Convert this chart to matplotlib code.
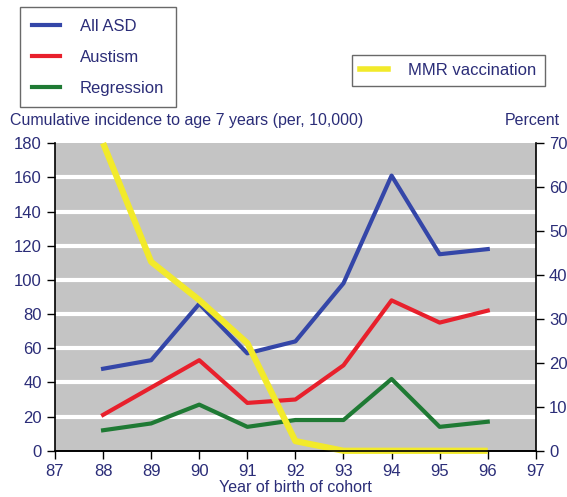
import matplotlib.pyplot as plt
from matplotlib.lines import Line2D

plt.rcParams['font.family'] = ['Liberation Sans', 'DejaVu Sans']

# data
years = [88, 89, 90, 91, 92, 93, 94, 95, 96]
all_asd = [48, 53, 86, 57, 64, 98, 161, 115, 118]
autism = [21, 37, 53, 28, 30, 50, 88, 75, 82]
regression = [12, 16, 27, 14, 18, 18, 42, 14, 17]
mmr_pct = [70, 43, 34.3, 24.5, 2.2, 0, 0, 0, 0]

txt = '#2b2d78'
blue, red, green, yellow = '#3446a8', '#e8202c', '#1f7a34', '#f2ea2a'

fig = plt.figure(figsize=(5.67, 4.97), dpi=100)
ax = fig.add_axes([0.097, 0.093, 0.848, 0.619])
ax.set_facecolor('#c4c4c4')
ax.set_xlim(87, 97)
ax.set_ylim(0, 180)
ax.set_xticks(range(87, 98))
ax.set_yticks(range(0, 181, 20))
for y in range(20, 180, 20):
    ax.axhline(y, color='white', lw=3, zorder=1)

ax.plot(years, all_asd, color=blue, lw=3, zorder=3)
ax.plot(years, autism, color=red, lw=3, zorder=3)
ax.plot(years, regression, color=green, lw=3, zorder=3)

ax2 = ax.twinx()
ax2.set_ylim(0, 70)
ax2.set_yticks(range(0, 71, 10))
ax2.plot(years, mmr_pct, color=yellow, lw=4.5, solid_capstyle='butt', clip_on=False)

for a in (ax, ax2):
    a.spines['top'].set_visible(False)
    for s in a.spines.values():
        s.set_linewidth(1.2)
    a.tick_params(colors='black', labelcolor=txt, labelsize=12, length=6, width=1)
ax2.spines['left'].set_visible(False)
ax.spines['right'].set_visible(False)

ax.set_xlabel('Year of birth of cohort', color=txt, fontsize=11.5, labelpad=1)
fig.text(0.018, 0.758, 'Cumulative incidence to age 7 years (per, 10,000)',
         color=txt, fontsize=11.5, va='center')
fig.text(0.988, 0.758, 'Percent', color=txt, fontsize=11.5, va='center', ha='right')

h1 = [Line2D([], [], color=c, lw=3) for c in (blue, red, green)]
leg1 = fig.legend(h1, ['All ASD', 'Austism', 'Regression'], loc='upper left',
                  bbox_to_anchor=(0.035, 0.985), fontsize=12, frameon=True,
                  fancybox=False, edgecolor='#444444', handlelength=1.7,
                  handletextpad=1.2, labelspacing=0.95, borderpad=0.7,
                  borderaxespad=0)
for t in leg1.get_texts():
    t.set_color(txt)
h2 = [Line2D([], [], color=yellow, lw=4)]
leg2 = fig.legend(h2, ['MMR vaccination'], loc='upper left',
                  bbox_to_anchor=(0.62, 0.89), fontsize=12, frameon=True,
                  fancybox=False, edgecolor='#444444', handlelength=1.7,
                  handletextpad=1.2, borderpad=0.5, borderaxespad=0)
for t in leg2.get_texts():
    t.set_color(txt)

fig.savefig('out.png', dpi=100)
